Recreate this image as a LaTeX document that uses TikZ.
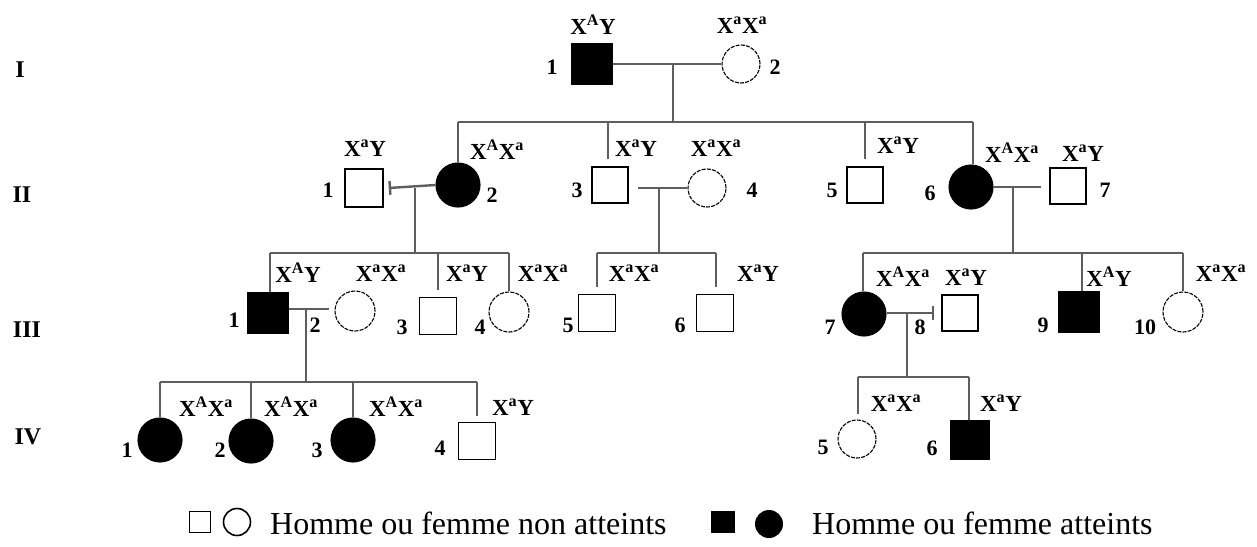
\documentclass[tikz,border=0pt]{standalone}
\usepackage{fontspec}
\setmainfont{Liberation Serif}
\definecolor{linegray}{HTML}{5E5E5E}
% genotype labels
\newcommand\gAY{X\textsuperscript{A}Y}
\newcommand\gaY{X\textsuperscript{a}Y}
\newcommand\gaa{X\textsuperscript{a}X\textsuperscript{a}}
\newcommand\gAa{X\textsuperscript{A}X\textsuperscript{a}}
\begin{document}
\begin{tikzpicture}[x=1pt,y=-1pt,
  male/.style={rectangle,draw=black,line width=1.5pt,minimum size=#1,inner sep=0pt},
  male/.default=38,
  female/.style={circle,draw=black,line width=1.1pt,dash pattern=on 4pt off 1.2pt,minimum size=#1,inner sep=0pt},
  female/.default=40,
  aff/.style={fill=black,solid},
  link/.style={draw=linegray,line width=2.4pt},
  geno/.style={font=\bfseries\fontsize{23}{25}\selectfont,inner sep=0pt},
  num/.style={font=\bfseries\fontsize{22}{24}\selectfont,inner sep=0pt},
  gen/.style={font=\bfseries\fontsize{24}{26}\selectfont,inner sep=0pt},
  legend/.style={font=\fontsize{32}{34}\selectfont,inner sep=0pt,anchor=west}]
\useasboundingbox (0,0) rectangle (1257,546);

% generation labels
\node[gen] (gen1) at (20,70) {I};
\node[gen] (gen2) at (22,195) {II};
\node[gen] (gen3) at (27,330) {III};
\node[gen] (gen4) at (28,437) {IV};

% ---------- generation I ----------
\node[male=40,aff] (I1) at (592,64) {};
\node[female=38] (I2) at (741,64) {};
\node[num] (nI1) at (552,67) {1};
\node[num] (nI2) at (775,67) {2};
\node[geno] (gI1) at (593,25) {\gAY};
\node[geno] (gI2) at (742,25) {\gaa};
\coordinate (mI) at (673,64);
\draw[link] (I1.east) -- (I2.west);

% ---------- generation II ----------
\node[male=38] (II1) at (364,188) {};
\node[female=44,aff] (II2) at (458,185) {};
\node[male=36] (II3) at (610,185) {};
\node[female=38] (II4) at (707,188) {};
\node[male=36] (II5) at (865,185) {};
\node[female=44,aff] (II6) at (971,187) {};
\node[male=36] (II7) at (1068,186) {};

\node[num] (nII1) at (328,190) {1};
\node[num] (nII2) at (492,195) {2};
\node[num] (nII3) at (577,190) {3};
\node[num] (nII4) at (752,190) {4};
\node[num] (nII5) at (832,190) {5};
\node[num] (nII6) at (930,193) {6};
\node[num] (nII7) at (1105,190) {7};

\node[geno] (gII1) at (365,148) {\gaY};
\node[geno] (gII2) at (497,150) {\gAa};
\node[geno] (gII3) at (636,148) {\gaY};
\node[geno] (gII4) at (716,148) {\gaa};
\node[geno] (gII5) at (898,145) {\gaY};
\node[geno] (gII6) at (1012,153) {\gAa};
\node[geno] (gII7) at (1083,153) {\gaY};

% sibship of I-1 x I-2
\coordinate (sIIa) at (458,122);
\coordinate (sIIb) at (973,122);
\draw[link] (mI) -- (mI |- sIIa);
\draw[link] (sIIa) -- (sIIb);
\draw[link] (II2.north |- sIIa) -- (II2.north);
\draw[link] (608,122) coordinate (tII3) -- ([yshift=7pt]tII3 |- II3.north);
\draw[link] (II5.north |- sIIa) -- ([yshift=7pt]II5.north);
\draw[link] (sIIb) -- (sIIb |- II6.north);

% couples of generation II
\draw[link,|-] ([xshift=5pt]II1.east) -- (II2.west);
\coordinate (mII12) at (415,188);
\draw[link] ([xshift=9pt]II3.east |- II4.west) -- (II4.west);
\coordinate (mII34) at (659,188);
\draw[link] (II6.east) -- ([xshift=-8pt]II7.west |- II6.east);
\coordinate (mII67) at (1013,187);

% ---------- generation III ----------
\node[male=40,aff] (III1) at (268,313) {};
\node[female=40] (III2) at (355,311) {};
\node[male=37] (III3) at (438,316) {};
\node[female=40] (III4) at (509,312) {};
\node[male=37] (III5) at (597,313) {};
\node[male=37] (III6) at (715,313) {};
\node[female=44,aff] (III7) at (864,314) {};
\node[male=36] (III8) at (960,313) {};
\node[male=41,aff] (III9) at (1079,312) {};
\node[female=40] (III10) at (1183,312) {};

\node[num] (nIII1) at (234,320) {1};
\node[num] (nIII2) at (315,325) {2};
\node[num] (nIII3) at (402,327) {3};
\node[num] (nIII4) at (480,327) {4};
\node[num] (nIII5) at (568,325) {5};
\node[num] (nIII6) at (680,325) {6};
\node[num] (nIII7) at (830,327) {7};
\node[num] (nIII8) at (920,327) {8};
\node[num] (nIII9) at (1043,325) {9};
\node[num] (nIII10) at (1145,327) {10};

\node[geno] (gIII1) at (298,273) {\gAY};
\node[geno] (gIII2) at (381,273) {\gaa};
\node[geno] (gIII3) at (467,273) {\gaY};
\node[geno] (gIII4) at (543,273) {\gaa};
\node[geno] (gIII5) at (634,273) {\gaa};
\node[geno] (gIII6) at (758,273) {\gaY};
\node[geno] (gIII7) at (903,277) {\gAa};
\node[geno] (gIII8) at (966,277) {\gaY};
\node[geno] (gIII9) at (1109,277) {\gAY};
\node[geno] (gIII10) at (1221,273) {\gaa};

% sibship of II-1 x II-2
\coordinate (sIIIa) at (270,253);
\coordinate (sIIIb) at (509,253);
\draw[link] (mII12) -- (mII12 |- sIIIa);
\draw[link] (sIIIa) -- (sIIIb);
\draw[link] (sIIIa) -- (sIIIa |- III1.north);
\draw[link] (III3.north |- sIIIa) -- ([yshift=7pt]III3.north);
\draw[link] (sIIIb) -- (III4.north);

% sibship of II-3 x II-4
\coordinate (sIIIc) at (597,253);
\coordinate (sIIId) at (716,253);
\draw[link] (mII34) -- (mII34 |- sIIIc);
\draw[link] (sIIIc) -- (sIIId);
\draw[link] (sIIIc) -- ([yshift=7pt]III5.north);
\draw[link] (sIIId) -- ([yshift=7pt]sIIId |- III6.north);

% sibship of II-6 x II-7
\coordinate (sIIIe) at (863,253);
\coordinate (sIIIf) at (1183,253);
\draw[link] (mII67) -- (mII67 |- sIIIe);
\draw[link] (sIIIe) -- (sIIIf);
\draw[link] (sIIIe) -- (sIIIe |- III7.north);
\draw[link] (1082,253) coordinate (tIII9) -- (tIII9 |- III9.north);
\draw[link] (sIIIf) -- (III10.north);

% couples of generation III
\draw[link] (III1.east |- 0,309) -- ([xshift=-5pt]III2.west |- 0,309);
\coordinate (mIII12) at (306,309);
\draw[link,-|] (III7.east |- 0,313) -- ([xshift=-7pt]III8.west);
\coordinate (mIII78) at (907,313);

% ---------- generation IV ----------
\node[female=44,aff] (IV1) at (160,440) {};
\node[female=44,aff] (IV2) at (251,441) {};
\node[female=44,aff] (IV3) at (353,440) {};
\node[male=37] (IV4) at (477,441) {};
\node[female=38] (IV5) at (857,439) {};
\node[male=38,aff] (IV6) at (970,440) {};

\node[num] (nIV1) at (127,450) {1};
\node[num] (nIV2) at (220,450) {2};
\node[num] (nIV3) at (317,450) {3};
\node[num] (nIV4) at (440,448) {4};
\node[num] (nIV5) at (823,447) {5};
\node[num] (nIV6) at (932,448) {6};

\node[geno] (gIV1) at (206,407) {\gAa};
\node[geno] (gIV2) at (291,407) {\gAa};
\node[geno] (gIV3) at (396,407) {\gAa};
\node[geno] (gIV4) at (513,407) {\gaY};
\node[geno] (gIV5) at (896,403) {\gaa};
\node[geno] (gIV6) at (1001,403) {\gaY};

% sibship of III-1 x III-2
\coordinate (sIVa) at (160,382);
\coordinate (sIVb) at (477,382);
\draw[link] (mIII12) -- (mIII12 |- sIVa);
\draw[link] (sIVa) -- (sIVb);
\draw[link] (sIVa) -- (IV1.north);
\draw[link] (IV2.north |- sIVa) -- (IV2.north);
\draw[link] (IV3.north |- sIVa) -- (IV3.north);
\draw[link] (sIVb) -- ([yshift=6pt]IV4.north);

% sibship of III-7 x III-8
\coordinate (sIVc) at (858,377);
\coordinate (sIVd) at (969,377);
\draw[link] (mIII78) -- (mIII78 |- sIVc);
\draw[link] (sIVc) -- (sIVd);
\draw[link] (sIVc) -- ([yshift=5pt]sIVc |- IV5.north);
\draw[link] (sIVd) -- (sIVd |- IV6.north);

% ---------- legend ----------
\node[rectangle,draw=black,line width=1.3pt,minimum size=21pt,inner sep=0pt] (lgM) at (200,522) {};
\node[circle,draw=black,line width=1.6pt,minimum size=27pt,inner sep=0pt] (lgF) at (237,522) {};
\node[legend] (lgT1) at (270,523) {Homme ou femme non atteints};
\node[rectangle,fill=black,minimum width=24pt,minimum height=22pt,inner sep=0pt] (lgMA) at (723,522) {};
\node[circle,fill=black,minimum size=28pt,inner sep=0pt] (lgFA) at (769,524) {};
\node[legend] (lgT2) at (812,523) {Homme ou femme atteints};
\end{tikzpicture}
\end{document}
